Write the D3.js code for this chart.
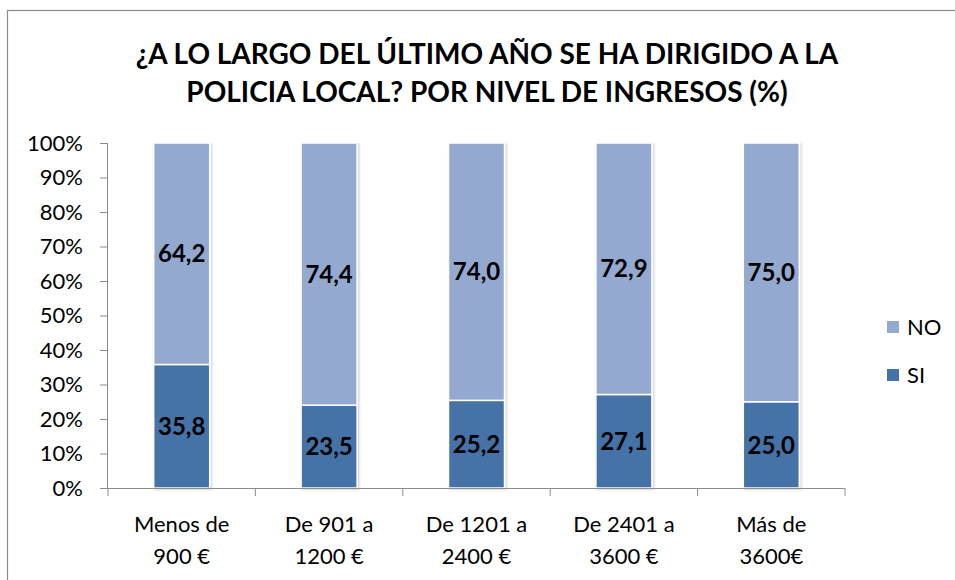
<!DOCTYPE html>
<html>
<head>
<meta charset="utf-8">
<script src="https://cdn.jsdelivr.net/npm/d3@7"></script>
<style>
  body { margin: 0; background: #fff; }
  svg { display: block; font-family: Lato, "Open Sans", sans-serif; }
</style>
</head>
<body>
<svg id="chart" width="955" height="580"></svg>
<script>
// Income brackets and answer shares (%)
const categories = [["Menos de", "900 €"], ["De 901 a", "1200 €"], ["De 1201 a", "2400 €"], ["De 2401 a", "3600 €"], ["Más de", "3600€"]];
const siValues = [35.8, 23.5, 25.2, 27.1, 25.0];
const noValues = [64.2, 74.4, 74.0, 72.9, 75.0];
const seriesNames = ["SI", "NO"];
const colors = { SI: "#4572A7", NO: "#94A9D0" };
const yTicks = [0, 0.1, 0.2, 0.3, 0.4, 0.5, 0.6, 0.7, 0.8, 0.9, 1];
const titleLines = ["¿A LO LARGO DEL ÚLTIMO AÑO SE HA DIRIGIDO A LA", "POLICIA LOCAL? POR NIVEL DE INGRESOS (%)"];

const svg = d3.select("#chart");

// soft shadow behind the columns
const defs = svg.append("defs");
const f = defs.append("filter").attr("id", "shadow").attr("x", "-20%").attr("y", "-5%").attr("width", "140%").attr("height", "110%");
f.append("feDropShadow").attr("dx", 1.5).attr("dy", 1).attr("stdDeviation", 1.2)
  .attr("flood-color", "#000").attr("flood-opacity", 0.18);

// outer chart frame
svg.append("rect").attr("x", 7.5).attr("y", 10.5).attr("width", 980).attr("height", 620)
  .attr("fill", "#fff").attr("stroke", "#8c8c8c").attr("stroke-width", 1.2);

const rows = categories.map((c, i) => ({ key: i, SI: siValues[i], NO: noValues[i] }));
// 100% stacked: each column is normalised to its own total
const stacked = d3.stack().keys(seriesNames).offset(d3.stackOffsetExpand)(rows);

const plotLeft = 108, plotRight = 845, plotTop = 143, plotBottom = 488;
const x = d3.scaleBand().domain(d3.range(categories.length)).range([plotLeft, plotRight]).paddingInner(0.62).paddingOuter(0.31);
const y = d3.scaleLinear().domain([0, 1]).range([plotBottom, plotTop]);

// title
svg.append("g").selectAll("text").data(titleLines).join("text")
  .attr("x", 487).attr("y", (d, i) => 64 + i * 38)
  .attr("text-anchor", "middle").attr("font-weight", "bold").attr("font-size", 28)
  .attr("fill", "#000").text(d => d);

// bars
const layer = svg.append("g").attr("filter", "url(#shadow)").selectAll("g").data(stacked).join("g")
  .attr("fill", d => colors[d.key]);
layer.selectAll("rect").data(d => d).join("rect")
  .attr("x", (d, i) => x(i)).attr("width", x.bandwidth())
  .attr("y", d => y(d[1])).attr("height", d => y(d[0]) - y(d[1]))
  .attr("stroke", "#fff").attr("stroke-width", 1.5);

// value labels centred in each segment
stacked.forEach(s => {
  const vals = s.key === "SI" ? siValues : noValues;
  svg.append("g").selectAll("text").data(s).join("text")
    .attr("x", (d, i) => x(i) + x.bandwidth() / 2)
    .attr("y", d => y((d[0] + d[1]) / 2))
    .attr("dy", "0.36em").attr("text-anchor", "middle")
    .attr("font-weight", "bold").attr("font-size", 24).attr("fill", "#000")
    .text((d, i) => vals[i].toFixed(1).replace(".", ","));
});

// y axis
const yAxis = svg.append("g").attr("transform", `translate(${plotLeft},0)`)
  .call(d3.axisLeft(y).tickValues(yTicks).tickFormat(d3.format(".0%")).tickSize(8).tickPadding(17));
yAxis.select(".domain").attr("stroke", "#8c8c8c").attr("d", `M-0.5,${plotTop}V${plotBottom}`);
yAxis.selectAll(".tick line").attr("stroke", "#8c8c8c");
yAxis.selectAll(".tick text").attr("font-size", 22).attr("fill", "#000").attr("font-family", "Lato, sans-serif");

// x axis with ticks between categories
const xAxis = svg.append("g").attr("transform", `translate(0,${plotBottom})`);
xAxis.append("line").attr("x1", plotLeft - 0.5).attr("x2", plotRight).attr("y1", 0.5).attr("y2", 0.5).attr("stroke", "#8c8c8c");
const step = x.step();
xAxis.selectAll("line.t").data(d3.range(categories.length + 1)).join("line").attr("class", "t")
  .attr("x1", i => plotLeft + i * step).attr("x2", i => plotLeft + i * step)
  .attr("y1", 0).attr("y2", 8).attr("stroke", "#8c8c8c");
const xl = xAxis.selectAll("text").data(categories).join("text")
  .attr("text-anchor", "middle").attr("font-size", 22).attr("fill", "#000")
  .attr("x", (d, i) => x(i) + x.bandwidth() / 2);
xl.selectAll("tspan").data(d => d).join("tspan")
  .attr("x", function () { return d3.select(this.parentNode).attr("x"); })
  .attr("y", (d, j) => 44 + j * 32).text(d => d);

// legend
const legend = svg.append("g").selectAll("g").data(["NO", "SI"]).join("g")
  .attr("transform", (d, i) => `translate(887,${321 + i * 48})`);
legend.append("rect").attr("width", 12).attr("height", 12).attr("fill", d => colors[d]);
legend.append("text").attr("x", 20).attr("y", 6).attr("dy", "0.36em")
  .attr("font-size", 22).attr("fill", "#000").text(d => d);
</script>
</body>
</html>
